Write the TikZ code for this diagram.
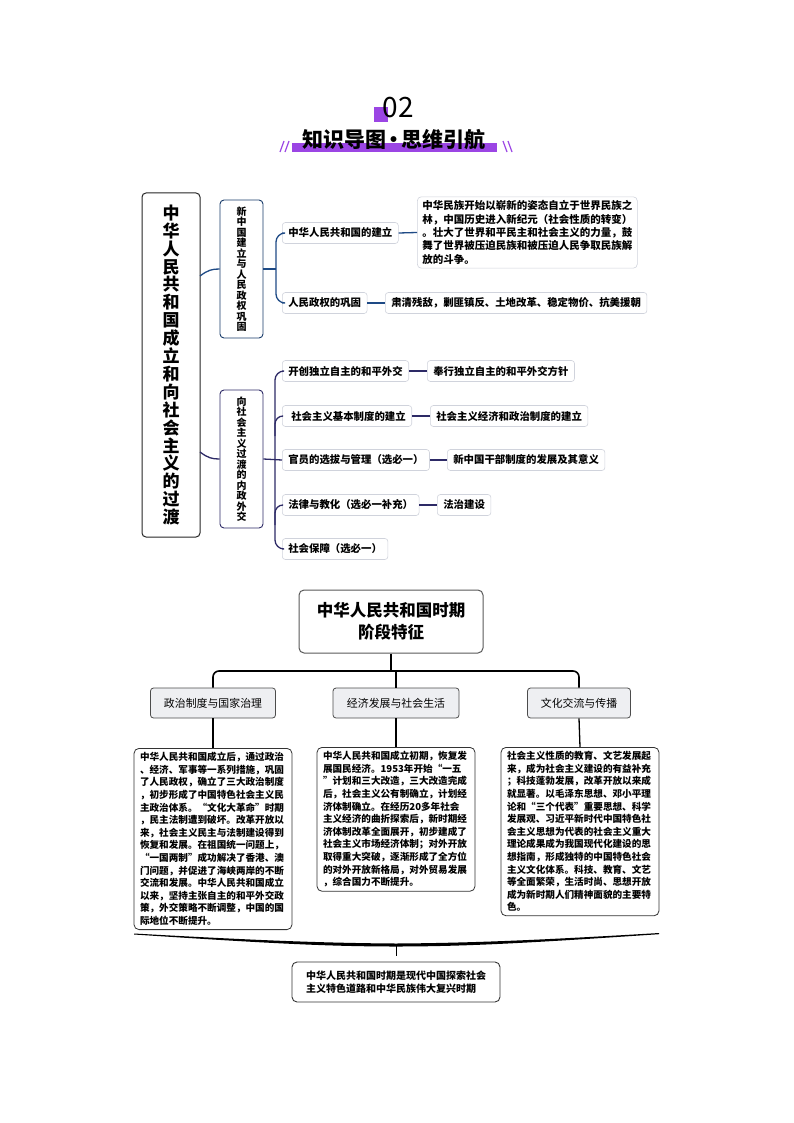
\documentclass[tikz,border=0pt]{standalone}
\usepackage{fontspec}
\setmainfont{Noto Sans CJK SC}
\usetikzlibrary{calc}
\definecolor{purp}{HTML}{9B45E4}
\definecolor{gblue}{HTML}{1E4A85}
\definecolor{gnavy}{HTML}{2D2A66}
\definecolor{lbord}{HTML}{D0D3DC}
\definecolor{hfill}{HTML}{EEEFF2}
\begin{document}
\begin{tikzpicture}[x=1pt,y=-1pt,
  mainbox/.style={draw=black!85,line width=1pt,rounded corners=4pt,fill=white,minimum width=58pt,minimum height=344pt,align=center,inner sep=0pt,font=\bfseries\fontsize{17}{17.9}\selectfont},
  subbox/.style={draw=#1,line width=0.9pt,rounded corners=4pt,fill=white,minimum width=43pt,minimum height=138pt,align=center,inner sep=0pt,font=\bfseries\fontsize{10}{10.5}\selectfont},
  leaf/.style={draw=lbord,line width=0.6pt,rounded corners=3pt,fill=white,minimum height=21pt,inner xsep=6pt,inner ysep=0pt,anchor=west,font=\bfseries\fontsize{10.4}{12.5}\selectfont},
  detbox/.style={draw=lbord,line width=0.6pt,rounded corners=4pt,fill=white,inner xsep=5pt,inner ysep=4pt,anchor=west,align=left,font=\bfseries\fontsize{10.5}{13.3}\selectfont},
  headbox/.style={draw=black!70,line width=0.8pt,rounded corners=3pt,fill=hfill,minimum height=30pt,inner xsep=0pt,font=\fontsize{10.9}{12}\selectfont},
  txtbox/.style={draw=black!80,line width=0.8pt,rounded corners=5pt,fill=white,anchor=north,align=left,text width=146pt,inner xsep=6pt,inner ysep=4pt,font=\bfseries\fontsize{9.6}{12.6}\selectfont},
  tree/.style={draw=black,line width=1.6pt},
  conn1/.style={draw=gblue,line width=1.3pt},
  conn2/.style={draw=gnavy,line width=1.3pt}
]
\useasboundingbox (0,0) rectangle (794,1123);
% ---------- header ----------
\fill[purp] (374,107) rectangle (388,122);
\node[inner sep=0pt,font=\fontsize{28}{28}\selectfont] (num) at (398,108) {02};
\fill[purp] (292,143) rectangle (497,152);
\node[inner sep=0pt,font=\bfseries\fontsize{21}{21}\selectfont] (title) at (394,140) {知识导图\kern-3pt·\kern-3pt思维引航};
\draw[purp,line width=1.2pt] (280,152) -- (284,141) (285,152) -- (289,141);
\draw[purp,line width=1.2pt] (503,141) -- (507,152) (508,141) -- (512,152);
% ---------- mind map ----------
\node[mainbox] (main) at (171,365) {中\\华\\人\\民\\共\\和\\国\\成\\立\\和\\向\\社\\会\\主\\义\\的\\过\\渡};
\node[subbox=gblue!80!black] (b1) at (241.5,269) {新\\中\\国\\建\\立\\与\\人\\民\\政\\权\\巩\\固};
\node[subbox=gnavy] (b2) at (241.5,459) {向\\社\\会\\主\\义\\过\\渡\\的\\内\\政\\外\\交};
\coordinate (m1) at (200,276);
\coordinate (m2) at (200,452);
\draw[conn1] (m1) .. controls (208,270) and (212,269) .. (b1.west);
\draw[conn2] (m2) .. controls (208,458) and (212,459) .. (b2.west);
% group 1
\node[leaf] (c1) at (282,233) {中华人民共和国的建立};
\node[leaf] (c2) at (282,303) {人民政权的巩固};
\node[detbox] (t1) at (417,232.5) {中华民族开始以崭新的姿态自立于世界民族之\\林，中国历史进入新纪元（社会性质的转变）\\。壮大了世界和平民主和社会主义的力量，鼓\\舞了世界被压迫民族和被压迫人民争取民族解\\放的斗争。};
\node[leaf] (t2) at (385,303) {肃清残敌，剿匪镇反、土地改革、稳定物价、抗美援朝};
\coordinate (k1) at (276,269);
\draw[conn1] (b1.east) -- (k1);
\draw[conn1,rounded corners=9pt] (c1.west) -| (k1) |- (c2.west);
\draw[conn1] (c1.east) -- (t1.west);
\draw[conn1] (c2.east) -- (t2.west);
% group 2
\node[leaf] (d1) at (282,371) {开创独立自主的和平外交};
\node[leaf] (d2) at (282,416) {\hspace{3pt}社会主义基本制度的建立};
\node[leaf] (d3) at (282,460) {官员的选拔与管理（选必一）};
\node[leaf] (d4) at (282,505) {法律与教化（选必一补充）};
\node[leaf] (d5) at (282,549) {社会保障（选必一）};
\node[leaf] (e1) at (427,371) {奉行独立自主的和平外交方针};
\node[leaf] (e2) at (430,416) {社会主义经济和政治制度的建立};
\node[leaf] (e3) at (447,460) {新中国干部制度的发展及其意义};
\node[leaf] (e4) at (437,505) {法治建设};
\coordinate (k2) at (275,460);
\coordinate (k2a) at (275,436);
\coordinate (k2b) at (275,525);
\draw[conn2] (b2.east) -- (d3.west);
\draw[conn2,rounded corners=9pt] (d1.west) -| (k2) |- (d5.west);
\draw[conn2,rounded corners=8pt] (d2.west) -| (k2a);
\draw[conn2,rounded corners=8pt] (d4.west) -| (k2b);
\draw[conn2] (d1.east) -- (e1.west);
\draw[conn2] (d2.east) -- (e2.west);
\draw[conn2] (d3.east) -- (e3.west);
\draw[conn2] (d4.east) -- (e4.west);
% ---------- bottom tree ----------
\node[draw=black!65,line width=1pt,rounded corners=5pt,fill=white,minimum width=184pt,minimum height=63pt,align=center,font=\bfseries\fontsize{16.5}{22}\selectfont] (top) at (391,621.5) {中华人民共和国时期\\阶段特征};
\node[headbox,minimum width=125pt] (h1) at (213,703) {政治制度与国家治理};
\node[headbox,minimum width=126pt] (h2) at (396,703) {经济发展与社会生活};
\node[headbox,minimum width=103pt] (h3) at (579,703) {文化交流与传播};
\coordinate (j) at (391,671);
\draw[tree] (top.south) -- (j);
\draw[tree,rounded corners=6pt] (h1.north) |- (j) -| (h3.north);
\draw[tree] (h2.north) -- (h2.north |- j);
\node[txtbox] (x1) at (213,748) {中华人民共和国成立后，通过政治\\、经济、军事等一系列措施，巩固\\了人民政权，确立了三大政治制度\\，初步形成了中国特色社会主义民\\主政治体系。“文化大革命”时期\\，民主法制遭到破坏。改革开放以\\来，社会主义民主与法制建设得到\\恢复和发展。在祖国统一问题上，\\“一国两制”成功解决了香港、澳\\门问题，并促进了海峡两岸的不断\\交流和发展。中华人民共和国成立\\以来，坚持主张自主的和平外交政\\策，外交策略不断调整，中国的国\\际地位不断提升。};
\node[txtbox] (x2) at (396,747) {中华人民共和国成立初期，恢复发\\展国民经济。1953年开始“一五\\”计划和三大改造，三大改造完成\\后，社会主义公有制确立，计划经\\济体制确立。在经历20多年社会\\主义经济的曲折探索后，新时期经\\济体制改革全面展开，初步建成了\\社会主义市场经济体制；对外开放\\取得重大突破，逐渐形成了全方位\\的对外开放新格局，对外贸易发展\\，综合国力不断提升。};
\node[txtbox] (x3) at (580,747) {社会主义性质的教育、文艺发展起\\来，成为社会主义建设的有益补充\\；科技蓬勃发展，改革开放以来成\\就显著。以毛泽东思想、邓小平理\\论和“三个代表”重要思想、科学\\发展观、习近平新时代中国特色社\\会主义思想为代表的社会主义重大\\理论成果成为我国现代化建设的思\\想指南，形成独特的中国特色社会\\主义文化体系。科技、教育、文艺\\等全面繁荣，生活时尚、思想开放\\成为新时期人们精神面貌的主要特\\色。};
\draw[tree,line width=1.3pt] (h1.south) -- (x1.north);
\draw[tree,line width=1.3pt] (h2.south) -- (x2.north);
\draw[tree,line width=1.3pt] (h3.south) -- (x3.north);
% brace
\fill[black] (134,933.5) .. controls (250,940) and (320,943) .. (396,943.5) .. controls (472,943) and (542,940) .. (659,933) -- (659,934.2) .. controls (542,942) and (472,946.5) .. (396,946.5) .. controls (320,946.5) and (250,942) .. (134,934.5) -- cycle;
\coordinate (bc) at (396,946);
\coordinate (bt) at (396,956);
\draw[black,line width=1pt] (bc) -- (bt);
\node[draw=black!80,line width=0.9pt,rounded corners=5pt,fill=white,minimum width=208pt,minimum height=40pt,align=left,font=\bfseries\fontsize{10}{13}\selectfont] (fin) at (396,982) {中华人民共和国时期是现代中国探索社会\\主义特色道路和中华民族伟大复兴时期};
\end{tikzpicture}
\end{document}
